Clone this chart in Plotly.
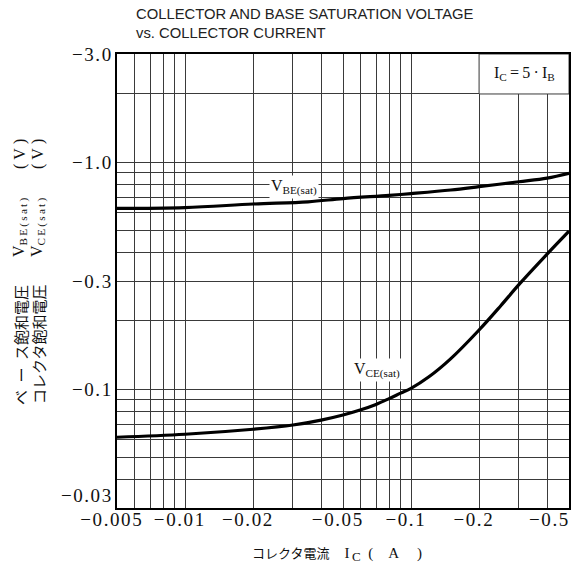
import numpy as np
import plotly.graph_objects as go

# ---------------- data ----------------
ic_be = [0.005, 0.01, 0.02, 0.035, 0.05, 0.08, 0.1, 0.15, 0.2, 0.3, 0.4, 0.5]
vbe_sat = [0.627, 0.632, 0.655, 0.670, 0.692, 0.715, 0.728, 0.755, 0.781, 0.821, 0.852, 0.894]

ic_ce = [0.005, 0.01, 0.02, 0.03, 0.04, 0.05, 0.06, 0.07, 0.08, 0.09, 0.1, 0.12, 0.15, 0.2,
         0.25, 0.3, 0.4, 0.5]
vce_sat = [0.0615, 0.0634, 0.0667, 0.0696, 0.0732, 0.0771, 0.0813, 0.0858, 0.0910, 0.0962, 0.101,
           0.1135, 0.1365, 0.1825, 0.234, 0.289, 0.394, 0.497]

x_labeled = [0.005, 0.01, 0.02, 0.05, 0.1, 0.2, 0.5]
x_labels = ["−0.005", "−0.01", "−0.02", "−0.05", "−0.1", "−0.2", "−0.5"]
y_labeled = [0.03, 0.1, 0.3, 1.0, 3.0]
y_labels = ["−0.03", "−0.1", "−0.3", "−1.0", "−3.0"]

x_range = [0.005, 0.5]
y_range = [0.03, 3.0]

cond_box_x = [0.2, 0.5]
cond_box_y = [2.0, 3.0]
label_be_pos = [0.0303, 0.778]
label_ce_pos = [0.0707, 0.1217]

title_lines = ["COLLECTOR AND BASE SATURATION VOLTAGE", "vs. COLLECTOR CURRENT"]
ytitle_jp = ["ベ\u2002ー\u2002ス飽和電圧", "コレクタ飽和電圧"]
ytitle_sym = ["BE(sat)", "CE(sat)"]
xtitle_jp = "コレクタ電流"

# ---------------- helpers ----------------
HS = "\u200a"
TS = "\u2009"
NB = "\u00a0"


def spaced(s, sep=HS):
    return sep.join(list(s))


def log_grid(lo, hi):
    vals = []
    d = 10.0 ** np.floor(np.log10(lo) + 1e-9)
    while d <= hi * 1.0001:
        for m in range(1, 10):
            v = round(m * d, 10)
            if lo * 0.9999 <= v <= hi * 1.0001:
                vals.append(v)
        d *= 10
    return vals


xgrid = log_grid(*x_range)
ygrid = log_grid(*y_range)


def text_for(vals, labeled, labels):
    out = []
    for v in vals:
        t = ""
        for lv, lt in zip(labeled, labels):
            if abs(v - lv) / lv < 1e-6:
                t = spaced(lt)
        out.append(t)
    return out


xtext = text_for(xgrid, x_labeled, x_labels)
# the last label is set flush with the right frame (drawn separately below)
xtext[-1] = ""
ytext = text_for(ygrid, y_labeled, y_labels)
# the bottom label sits a little higher, clear of the x labels
ytext[0] = ytext[0] + "<br>" + NB

SERIF = "Liberation Serif, Noto Sans CJK JP, serif"
CJK = "Noto Sans CJK JP"
GRID = "#3a3a3a"
INK = "#111"

fig = go.Figure()
fig.add_trace(go.Scatter(x=ic_be, y=vbe_sat, mode="lines",
                         line=dict(color="black", width=3.2, shape="spline", smoothing=1.0),
                         hoverinfo="skip", showlegend=False))
fig.add_trace(go.Scatter(x=ic_ce, y=vce_sat, mode="lines",
                         line=dict(color="black", width=3.2, shape="spline", smoothing=1.0),
                         hoverinfo="skip", showlegend=False))

L, R, T, B = 117, 15, 54, 60
W, H = 584, 568
PW, PH = W - L - R, H - T - B


def px(xp):
    return (xp - L) / PW


def py(yp):
    return (H - B - yp) / PH


fig.update_layout(
    width=W, height=H,
    margin=dict(l=L, r=R, t=T, b=B, autoexpand=False),
    paper_bgcolor="white", plot_bgcolor="white",
    showlegend=False,
    font=dict(family=SERIF, color=INK),
)

fig.update_xaxes(type="log", range=[np.log10(x_range[0]), np.log10(x_range[1])],
                 tickmode="array", tickvals=xgrid, ticktext=xtext, ticks="",
                 showgrid=True, gridcolor=GRID, gridwidth=1, automargin=False,
                 showline=True, mirror=True, linecolor="black", linewidth=2,
                 zeroline=False, tickfont=dict(family=SERIF, size=19, color=INK),
                 ticklabelshift=-6, ticklabelstandoff=-7, ticklabeloverflow="allow")
fig.update_yaxes(type="log", range=[np.log10(y_range[0]), np.log10(y_range[1])],
                 tickmode="array", tickvals=ygrid, ticktext=ytext, ticks="",
                 showgrid=True, gridcolor=GRID, gridwidth=1, automargin=False,
                 showline=True, mirror=True, linecolor="black", linewidth=2,
                 zeroline=False, tickfont=dict(family=SERIF, size=19, color=INK),
                 ticklabeloverflow="allow")

# last x tick label, right-aligned to the frame
fig.add_annotation(xref="x", yref="paper", x=np.log10(x_labeled[-1]), y=py(519),
                   xanchor="right", yanchor="middle", showarrow=False, xshift=1,
                   text=spaced(x_labels[-1]), font=dict(family=SERIF, size=19, color=INK))

# title
fig.add_annotation(xref="paper", yref="paper", x=px(134), y=py(24), xanchor="left",
                   yanchor="middle", align="left", showarrow=False,
                   text="<br>".join(title_lines),
                   font=dict(family="Liberation Sans, Arial, sans-serif", size=14.8, color="#222"))

# condition box (white, above gridlines, below curves)
fig.add_shape(type="rect", xref="x", yref="y",
              x0=cond_box_x[0], x1=cond_box_x[1], y0=cond_box_y[0], y1=cond_box_y[1],
              fillcolor="white", line=dict(color=GRID, width=1), layer="between")
fig.add_annotation(x=np.log10(np.sqrt(cond_box_x[0] * cond_box_x[1])),
                   y=np.log10(np.sqrt(cond_box_y[0] * cond_box_y[1])),
                   xref="x", yref="y", showarrow=False,
                   text="I<sub>C</sub>\u2009=\u20095\u2009·\u2009I<sub>B</sub>",
                   font=dict(family=SERIF, size=16, color=INK))

# curve labels
fig.add_annotation(x=np.log10(label_be_pos[0]), y=np.log10(label_be_pos[1]), xref="x", yref="y",
                   showarrow=False, text="V<sub>BE(sat)</sub>", bgcolor="white", borderpad=1,
                   font=dict(family=SERIF, size=16, color=INK))
fig.add_annotation(x=np.log10(label_ce_pos[0]), y=np.log10(label_ce_pos[1]), xref="x", yref="y",
                   showarrow=False, text="V<sub>CE(sat)</sub>", bgcolor="white", borderpad=1,
                   font=dict(family=SERIF, size=16, color=INK))

# x axis title
fig.add_annotation(xref="paper", yref="paper", x=px(250), y=py(553),
                   showarrow=False, xanchor="left", yanchor="middle",
                   text=f"<span style='font-family:{CJK};font-size:13px'>{xtitle_jp}</span>"
                        "\u2003I<sub><span style='font-size:13px'>\u2009C</span></sub>"
                        "\u2002(\u2003A\u2003\u2009)",
                   font=dict(family=SERIF, size=15, color=INK))

# y axis title: two rotated columns, three pieces each
col_x = [20, 38]
for i in range(2):
    fig.add_annotation(xref="paper", yref="paper", x=px(col_x[i]), y=py(345), textangle=-90,
                       showarrow=False, xanchor="center", yanchor="middle",
                       text=ytitle_jp[i], font=dict(family=CJK, size=15, color=INK))
    fig.add_annotation(xref="paper", yref="paper", x=px(col_x[i]), y=py(228), textangle=-90,
                       showarrow=False, xanchor="center", yanchor="middle",
                       text="V<sub>" + spaced(ytitle_sym[i], TS) + "</sub>",
                       font=dict(family=SERIF, size=16, color=INK))
    fig.add_annotation(xref="paper", yref="paper", x=px(col_x[i]), y=py(154), textangle=-90,
                       showarrow=False, xanchor="center", yanchor="middle",
                       text="(" + NB + "V" + NB + ")",
                       font=dict(family=SERIF, size=16, color=INK))

fig.write_html("out.html")
